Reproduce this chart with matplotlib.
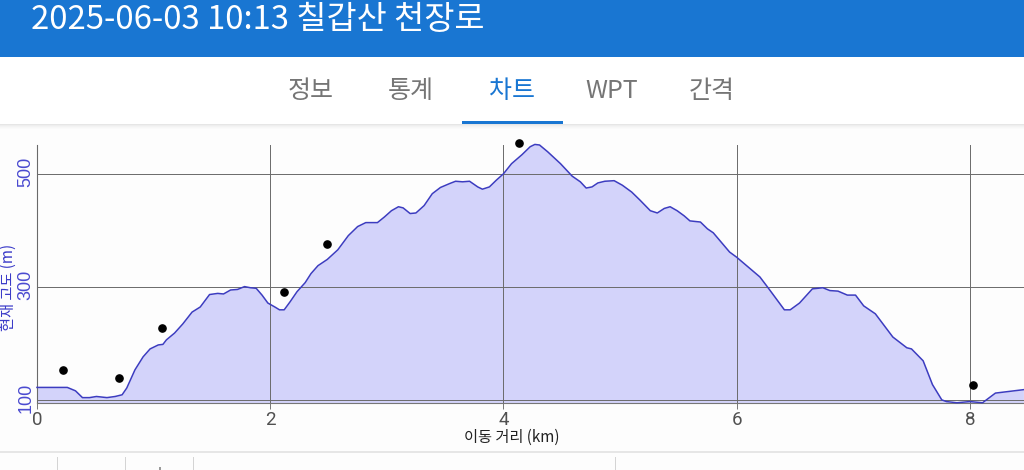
import matplotlib
matplotlib.use("Agg")
import matplotlib.pyplot as plt
from matplotlib.patches import Rectangle
from matplotlib.transforms import Affine2D

plt.rcParams['font.family'] = ['Noto Sans CJK KR', 'DejaVu Sans']

distance_km = [0.00,0.26,0.33,0.39,0.45,0.51,0.60,0.67,0.73,0.77,0.84,0.91,0.97,1.04,1.08,1.11,1.18,1.25,1.33,1.40,
    1.48,1.55,1.60,1.66,1.72,1.78,1.83,1.88,1.93,1.98,2.04,2.08,2.12,2.17,2.23,2.30,2.35,2.41,2.49,2.58,
    2.67,2.75,2.82,2.92,2.98,3.04,3.10,3.14,3.20,3.25,3.32,3.39,3.46,3.54,3.59,3.65,3.71,3.78,3.82,3.88,
    3.94,4.00,4.07,4.16,4.23,4.27,4.31,4.38,4.49,4.59,4.66,4.71,4.76,4.81,4.87,4.95,5.02,5.10,5.17,5.26,
    5.32,5.38,5.43,5.49,5.55,5.60,5.69,5.75,5.80,5.94,6.00,6.20,6.27,6.41,6.46,6.54,6.65,6.74,6.80,6.87,
    6.95,7.02,7.09,7.19,7.34,7.46,7.50,7.60,7.68,7.76,7.80,7.89,8.00,8.11,8.22,8.46]
elevation_m = [123,123,117,105,105,107,105,107,110,122,154,177,191,198,199,207,219,235,256,265,
    287,289,288,295,296,301,299,298,286,272,265,260,260,274,292,308,324,338,349,366,
    391,407,414,414,424,435,442,440,430,431,444,465,476,483,487,486,487,477,473,477,
    489,500,518,534,548,552,551,539,518,496,486,475,477,484,487,488,480,468,454,435,
    431,439,442,435,426,417,415,403,396,362,353,318,299,260,260,272,297,299,294,293,
    286,286,267,253,212,193,191,170,128,101,98,96,98,96,113,119]

waypoint_km = [0.22,0.70,1.07,2.12,2.49,4.13,8.03]
waypoint_m = [154,140,228,292,376,555,128]

x_ticks = [0,2,4,6,8]
y_ticks = [100,300,500]
title = "2025-06-03 10:13 칠갑산 천장로"
tabs = ["정보","통계","차트","WPT","간격"]
tab_centers = [311,411,512,612,712]

W, H = 1024, 470
BLUE = "#1976D2"
LINE = "#3c3cc0"
TICKBLUE = "#4a4ad0"

fig = plt.figure(figsize=(W/100, H/100), dpi=100, facecolor="#fdfdfd")

def rect(x0, y0, x1, y1, color, alpha=1.0):
    fig.add_artist(Rectangle((x0/W, 1-y1/H), (x1-x0)/W, (y1-y0)/H, transform=fig.transFigure,
                             facecolor=color, edgecolor="none", alpha=alpha))

# app chrome
rect(0, 57, W, 124, "#ffffff")
rect(0, 0, W, 57, BLUE)
for i, a in enumerate([0.09, 0.06, 0.04, 0.025, 0.012]):
    rect(0, 124+i, W, 125+i, "#000000", a)
rect(462, 121, 563, 124, BLUE)
fig.text(31/W, 1-19.5/H, title, color="white", fontsize=23.6, va="center", ha="left")
for label, cx in zip(tabs, tab_centers):
    fig.text(cx/W, 1-91.5/H, label, color=BLUE if label == "차트" else "#757575",
             fontsize=18, fontweight="medium", va="center", ha="center")

# footer
rect(0, 451, W, 453, "#e6e6e6")
for fx in [57, 125, 193, 615]:
    rect(fx, 457, fx+1, 470, "#d4d4d4")
rect(159, 467, 161, 470, "#9a9a9a")

# chart
ax = fig.add_axes([37/W, 1-403/H, (W-37)/W, (403-145)/H])
ax.set_facecolor("#fdfdfd")
ax.set_xlim(0, 8.465)
ax.set_ylim(95.5, 551)
ax.fill_between(distance_km, elevation_m, 95.5, color="#d3d3fa", lw=0, zorder=1)
ax.grid(True, color="#6a6a6a", lw=0.7, zorder=2)
ax.set_axisbelow(False)
ax.plot(distance_km, elevation_m, color=LINE, lw=1.1, zorder=3, clip_on=False, solid_joinstyle="round")
ax.plot(waypoint_km, waypoint_m, "o", color="black", ms=5.2, clip_on=False, zorder=4)
for s in ["top", "right"]:
    ax.spines[s].set_visible(False)
for s in ["left", "bottom"]:
    ax.spines[s].set_color("#777777")
    ax.spines[s].set_linewidth(0.8)
ax.set_xticks(x_ticks)
ax.set_yticks(y_ticks)
ax.tick_params(axis="x", length=4, width=0.7, color="#777777", labelsize=13.5, labelcolor="#505050", pad=2)
ax.tick_params(axis="y", length=0, labelsize=13, labelcolor=TICKBLUE, pad=2, labelrotation=90)
for t in ax.get_yticklabels():
    t.set_verticalalignment("center")
    t.set_rotation_mode("default")
    t.set_fontfamily(["Liberation Sans"])
    t.set_transform(t.get_transform() + Affine2D().translate(0, 2.5))
for t in ax.get_xticklabels():
    t.set_fontfamily(["Roboto"])
fig.text(8/W, 1-287.5/H, "현재 고도 (m)", color="#3a3ac8", rotation=90, fontsize=11,
         fontweight="medium", va="center", ha="center")
fig.text(512/W, 1-437/H, "이동 거리 (km)", color="#222222", fontsize=11, va="center", ha="center")

fig.savefig("out.png", dpi=100, facecolor=fig.get_facecolor())
